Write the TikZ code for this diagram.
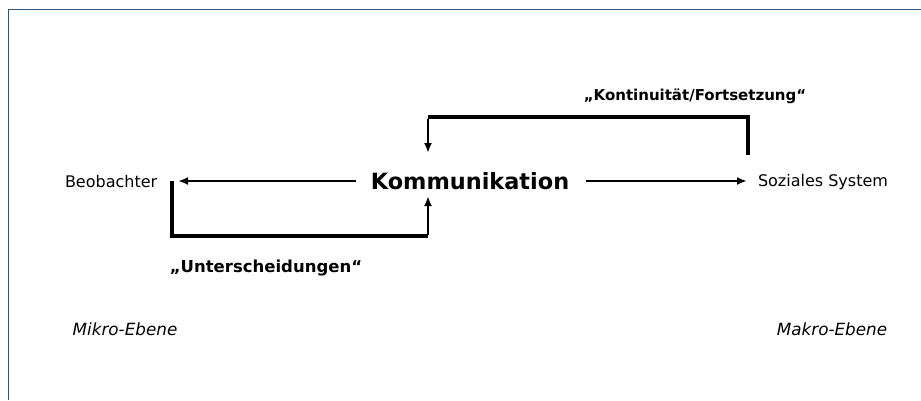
\documentclass[tikz,border=0pt]{standalone}
\usepackage{fontspec}
\setmainfont{DejaVu Sans}
\usetikzlibrary{arrows.meta}
\definecolor{framecol}{RGB}{50,82,128}
\tikzset{
  lbl/.style={inner sep=0pt, outer sep=0pt, font=\fontsize{16}{19}\selectfont},
  bold/.style={inner sep=0pt, font=\fontsize{15}{18}\selectfont\bfseries},
  lvl/.style={inner sep=0pt, font=\fontsize{16.8}{19}\selectfont\itshape},
  arr/.style={line width=2.6pt, -{Latex[length=10pt,width=8pt]}},
  fb/.style={line width=3.8pt},
  fbarr/.style={line width=2.4pt, -{Latex[length=10pt,width=8pt]}}
}
\begin{document}
\begin{tikzpicture}[x=1pt,y=-1pt]
\useasboundingbox (0,0) rectangle (921,400);
\fill[white] (0,0) rectangle (921,400);
\draw[framecol, line width=1.8pt] (8.5,400) -- (8.5,9.5) -- (921,9.5);

\node[lbl, anchor=west] (beo) at (65,182) {Beobachter};
\node[inner sep=0pt, font=\fontsize{22.4}{26}\selectfont\bfseries] (komm) at (470,181) {Kommunikation};
\node[lbl, anchor=west] (soz) at (758,182) {Soziales System};
\node[bold] (konti) at (695,96) {„Kontinuität/Fortsetzung“};
\node[bold, font=\fontsize{16.5}{19}\selectfont\bfseries] (unter) at (266,268) {„Unterscheidungen“};
\node[lvl] (mikro) at (125,329) {Mikro-Ebene};
\node[lvl] (makro) at (832,329) {Makro-Ebene};

% bottom feedback loop corners
\coordinate (b1) at (172,181);
\coordinate (b2) at (172,236);
\coordinate (b3) at (428,236);
\coordinate (b4) at (428,196);

% main arrows
\draw[arr] ([xshift=-15pt]komm.west) -- ([xshift=6pt]b1 |- komm.west);
\draw[arr] ([xshift=17pt]komm.east) -- ([xshift=-11pt]soz.west |- komm.east);

% top feedback loop
\coordinate (t1) at (748,155);
\coordinate (t2) at (748,117);
\coordinate (t3) at (428,117);
\coordinate (t4) at (428,153);
\draw[fb] (t1) -- (t2) -- (t3);
\draw[fbarr] ([yshift=-1.5pt]t3) -- (t4);

\draw[fb] (b1) -- (b2) -- (b3);
\draw[fbarr] ([yshift=1.5pt]b3) -- (b4);
\end{tikzpicture}
\end{document}
